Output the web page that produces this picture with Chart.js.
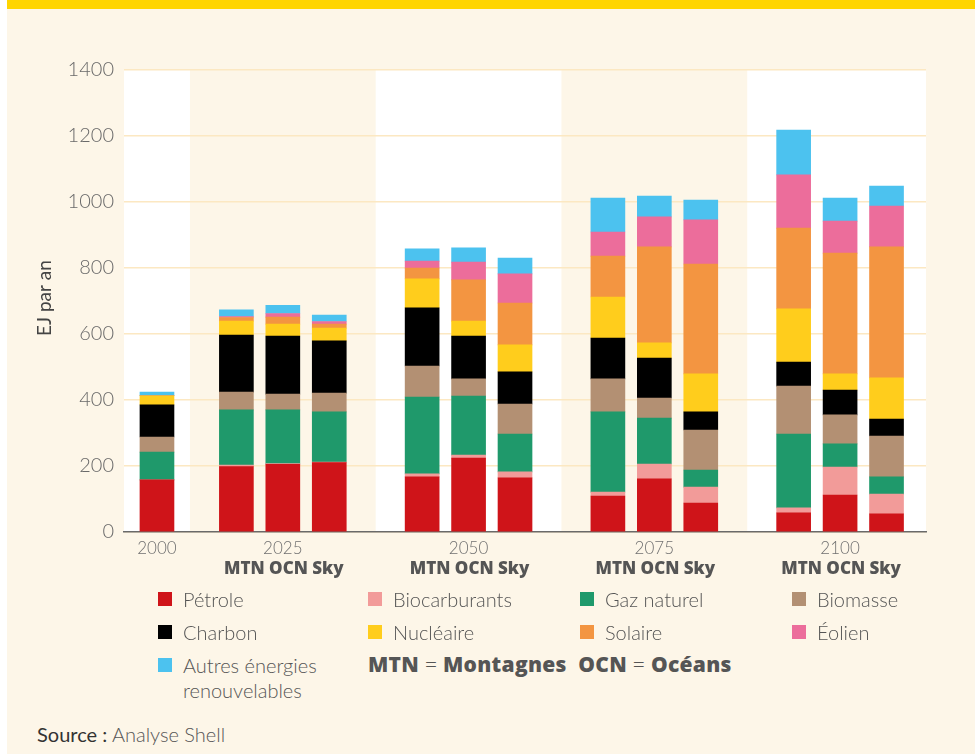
<!DOCTYPE html>
<html lang="fr">
<head>
<meta charset="utf-8">
<script src="https://cdn.jsdelivr.net/npm/chart.js@4.4.1/dist/chart.umd.min.js"></script>
<style>
  html, body { margin: 0; padding: 0; }
  body {
    width: 975px; height: 755px; position: relative; overflow: hidden;
    background: #ffffff;
    font-family: Lato, "Open Sans", sans-serif; color: #555;
  }
  #page { position: absolute; left: 7px; top: 0; width: 968px; height: 754px; background: #fdf6e8; }
  #topbar { position: absolute; left: 7px; top: 0; width: 968px; height: 9px; background: #ffd500; }
  #wrap { position: absolute; left: 0; top: 0; width: 975px; height: 590px; }
  .item { position: absolute; font-size: 20px; font-weight: 300; line-height: 25px; color: #555; }
  .item .sw { position: absolute; left: 0; top: 5px; width: 14px; height: 14px; }
  .item .tx { position: absolute; left: 25px; top: 0; white-space: nowrap; }
  .item .tx.wrap { white-space: normal; width: 160px; }
  #note { position: absolute; left: 368px; top: 650px; font-family: "Open Sans", sans-serif; font-size: 21px; color: #555; white-space: nowrap; letter-spacing: 0.3px; }
  #note b { font-weight: 800; }
  #note span { font-weight: 300; }
  #source { position: absolute; left: 37px; top: 722px; font-size: 20px; color: #555; font-weight: 300; }
  #source b { font-weight: 400; color: #333; }
</style>
</head>
<body>
<div id="page"></div>
<div id="topbar"></div>
<div id="wrap"><canvas id="chart" width="975" height="590"></canvas></div>
<div id="legend"></div>
<div id="note"><b>MTN</b> <span>=</span> <b>Montagnes</b>&nbsp;&nbsp;<b>OCN</b> <span>=</span> <b>Océans</b></div>
<div id="source"><b>Source :</b> Analyse Shell</div>
<script>
// years and scenarios; 2000 has a single bar, later years have MTN / OCN / Sky
const years = ['2000', '2025', '2050', '2075', '2100'];
const scenarios = ['MTN', 'OCN', 'Sky'];

// EJ per year, order: 2000, 2025 MTN/OCN/Sky, 2050 ..., 2075 ..., 2100 ...
const petrole    = [158, 198, 205, 210, 167, 224, 164, 109, 161,  88,  58, 112,  55];
const biocarb    = [  0,   5,   2,   2,   9,   9,  18,  12,  45,  48,  15,  85,  60];
const gazNaturel = [ 84, 167, 163, 152, 233, 179, 115, 243, 139,  52, 224,  70,  52];
const biomasse   = [ 46,  54,  48,  57,  94,  52,  91, 100,  61, 121, 145,  88, 124];
const charbon    = [ 97, 173, 176, 158, 176, 130,  97, 124, 121,  55,  73,  75,  51];
const nucleaire  = [ 28,  42,  36,  39,  88,  45,  82, 124,  46, 115, 161,  49, 125];
const solaire    = [  0,  11,  21,  12,  33, 125, 127, 124, 291, 333, 245, 366, 397];
const eolien     = [  0,   3,  11,   8,  21,  54,  88,  73,  91, 134, 161,  97, 124];
const autres     = [ 11,  20,  25,  19,  37,  43,  48, 103,  63,  60, 136,  70,  60];

const yTicks = [0, 200, 400, 600, 800, 1000, 1200, 1400];

const series = [
    { label: 'Pétrole', data: petrole, color: '#cf1419' },
    { label: 'Biocarburants', data: biocarb, color: '#f29b99' },
    { label: 'Gaz naturel', data: gazNaturel, color: '#1f996b' },
    { label: 'Biomasse', data: biomasse, color: '#b39073' },
    { label: 'Charbon', data: charbon, color: '#000000' },
    { label: 'Nucléaire', data: nucleaire, color: '#ffcd1c' },
    { label: 'Solaire', data: solaire, color: '#f39541' },
    { label: 'Éolien', data: eolien, color: '#ec6d9b' },
    { label: 'Autres énergies renouvelables', data: autres, color: '#4cc2ef' }
];

// slot layout on a linear x axis: one empty slot between year groups
const X_MIN = -0.42;
const X_MAX = 16.85;

function barSlots() {
    let slots = [(X_MIN + 1) / 2];
    for (let g = 1; g < years.length; g++) {
        scenarios.forEach(function(s, m) { slots.push(4 * g - 2 + m); });
    }
    return slots;
}
const slots = barSlots();

function groupEdges(g) {
    let start = g === 0 ? X_MIN : 4 * g - 3;
    let end = g === years.length - 1 ? X_MAX : 4 * g + 1;
    return [start, end];
}

const datasets = series.map(function(s) {
    return {
        label: s.label,
        data: s.data.map(function(v, i) { return { x: slots[i], y: v }; }),
        backgroundColor: s.color,
        borderWidth: 0,
        barThickness: 34
    };
});

const bandsPlugin = {
    id: 'bands',
    beforeDraw(chart) {
        const { ctx, chartArea: a, scales: { x } } = chart;
        ctx.save();
        ctx.fillStyle = '#ffffff';
        years.forEach(function(y, g) {
            if (g % 2 !== 0) return;
            const e = groupEdges(g);
            const x0 = x.getPixelForValue(e[0]);
            const x1 = x.getPixelForValue(e[1]);
            ctx.fillRect(x0, a.top, x1 - x0, a.bottom - a.top);
        });
        ctx.restore();
    }
};

const labelsPlugin = {
    id: 'xlabels',
    afterDraw(chart) {
        const { ctx, chartArea: a, scales: { x } } = chart;
        ctx.save();
        ctx.textAlign = 'center';
        ctx.textBaseline = 'middle';
        // year labels
        ctx.font = '300 17px Lato, "Open Sans", sans-serif';
        ctx.fillStyle = '#707070';
        ctx.fillText(years[0], x.getPixelForValue(slots[0]), a.bottom + 17);
        for (let g = 1; g < years.length; g++) {
            ctx.fillText(years[g], x.getPixelForValue(4 * g - 1), a.bottom + 17);
        }
        // scenario labels, one line per year group
        ctx.font = '800 17px "Open Sans", sans-serif';
        ctx.fillStyle = '#555555';
        for (let g = 1; g < years.length; g++) {
            ctx.fillText(scenarios.join(' '), x.getPixelForValue(4 * g - 1) + 1, a.bottom + 37);
        }
        // y title
        ctx.translate(45, (a.top + a.bottom) / 2 - 3);
        ctx.rotate(-Math.PI / 2);
        ctx.font = '400 19px Lato, "Open Sans", sans-serif';
        ctx.fillStyle = '#444444';
        ctx.fillText('EJ par an', 0, 0);
        ctx.restore();
    }
};

new Chart(document.getElementById('chart'), {
    type: 'bar',
    data: { datasets: datasets },
    plugins: [bandsPlugin, labelsPlugin],
    options: {
        responsive: false,
        animation: false,
        layout: { padding: { left: 0, right: 49, top: 70, bottom: 58 } },
        plugins: { legend: { display: false }, tooltip: { enabled: false } },
        scales: {
            x: {
                type: 'linear',
                stacked: true,
                offset: false,
                min: X_MIN,
                max: X_MAX,
                grid: { display: false, offset: false },
                ticks: { display: false },
                border: { display: true, color: '#6a6a6a', width: 1.5 },
                afterFit: function(s) { s.height = 0; }
            },
            y: {
                stacked: true,
                min: 0,
                max: 1400,
                afterBuildTicks: function(s) { s.ticks = yTicks.map(function(v) { return { value: v }; }); },
                grid: { color: '#fce8c2', lineWidth: 1.5, drawTicks: false },
                border: { display: false },
                ticks: {
                    padding: 10,
                    color: '#6a6a6a',
                    font: { family: 'Lato, "Open Sans", sans-serif', size: 20, weight: '300' },
                    callback: function(v) { return String(v); }
                },
                afterFit: function(s) { s.width = 124; }
            }
        }
    }
});

// legend, 4 columns
function buildLegend() {
    const cols = [158, 368, 580, 792];
    const rows = [587, 620, 653];
    let html = '';
    series.forEach(function(s, i) {
        const left = cols[i % 4];
        const top = rows[Math.floor(i / 4)];
        const wrap = s.label.length > 20 ? ' wrap' : '';
        html += '<div class="item" style="left:' + left + 'px;top:' + top + 'px">' +
            '<div class="sw" style="background:' + s.color + '"></div>' +
            '<div class="tx' + wrap + '">' + s.label + '</div></div>';
    });
    document.getElementById('legend').innerHTML = html;
}
buildLegend();
</script>
</body>
</html>
